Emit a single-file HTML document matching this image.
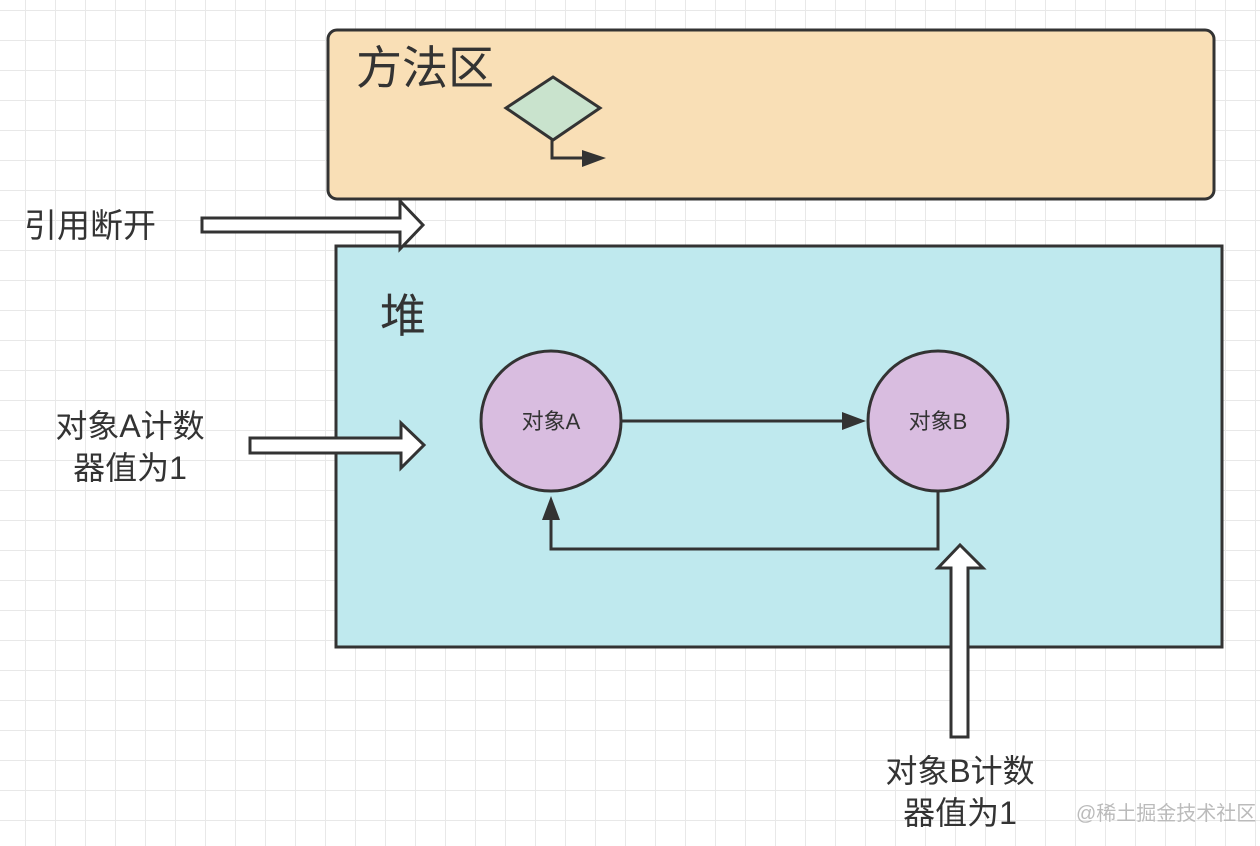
<!DOCTYPE html>
<html><head><meta charset="utf-8"><style>
html,body{margin:0;padding:0;background:#fff}
body{width:1260px;height:846px;overflow:hidden;position:relative;
background-image:linear-gradient(to right,#e8e8e8 1px,transparent 1px),linear-gradient(to bottom,#e8e8e8 1px,transparent 1px);
background-size:30px 30px;background-position:25px 10px;}
svg{position:absolute;left:0;top:0}
text{font-family:"Liberation Sans","Noto Sans CJK SC",sans-serif;fill:#333}
</style></head><body>
<svg width="1260" height="846" viewBox="0 0 1260 846">
<rect x="328" y="30" width="886" height="169" rx="9" fill="#f9dfb6" stroke="#333" stroke-width="3"/>
<text x="356" y="84" font-size="46">方法区</text>
<path d="M553,77 L600,108 L553,140 L506,108Z" fill="#c9e3cd" stroke="#333" stroke-width="3"/>
<path d="M552,140 V158 H594" fill="none" stroke="#333" stroke-width="3"/>
<path d="M582,150 L606,158 L582,167Z" fill="#333"/>
<rect x="336" y="246" width="886" height="401" fill="#bfe9ee" stroke="#333" stroke-width="3"/>
<text x="380" y="332" font-size="46">堆</text>
<circle cx="551" cy="421" r="70" fill="#d9bde0" stroke="#333" stroke-width="3"/>
<circle cx="938" cy="421" r="70" fill="#d9bde0" stroke="#333" stroke-width="3"/>
<text x="551" y="429" font-size="22" text-anchor="middle">对象A</text>
<text x="938" y="429" font-size="22" text-anchor="middle">对象B</text>
<path d="M621,421 H854" stroke="#333" stroke-width="3"/>
<path d="M842,412 L866,421 L842,430Z" fill="#333"/>
<path d="M938,491 V549 H551 V510" fill="none" stroke="#333" stroke-width="3"/>
<path d="M542,520 L551,496 L560,520Z" fill="#333"/>
<path d="M202,218 H400 V201 L423,225 L400,249 V232 H202Z" fill="#fff" stroke="#333" stroke-width="3"/>
<path d="M250,438 H401 V423 L424,445 L401,468 V453 H250Z" fill="#fff" stroke="#333" stroke-width="3"/>
<path d="M951,737 V568 H938 L960,545 L983,568 H968 V737Z" fill="#fff" stroke="#333" stroke-width="3"/>
<text x="24" y="237" font-size="33">引用断开</text>
<text x="130" y="437" font-size="32" text-anchor="middle">对象A计数</text>
<text x="130" y="479" font-size="32" text-anchor="middle">器值为1</text>
<text x="960" y="782" font-size="32" text-anchor="middle">对象B计数</text>
<text x="960" y="824" font-size="32" text-anchor="middle">器值为1</text>
<text x="1076" y="820" font-size="20" style="fill:#bbb">@稀土掘金技术社区</text>
</svg>
</body></html>
